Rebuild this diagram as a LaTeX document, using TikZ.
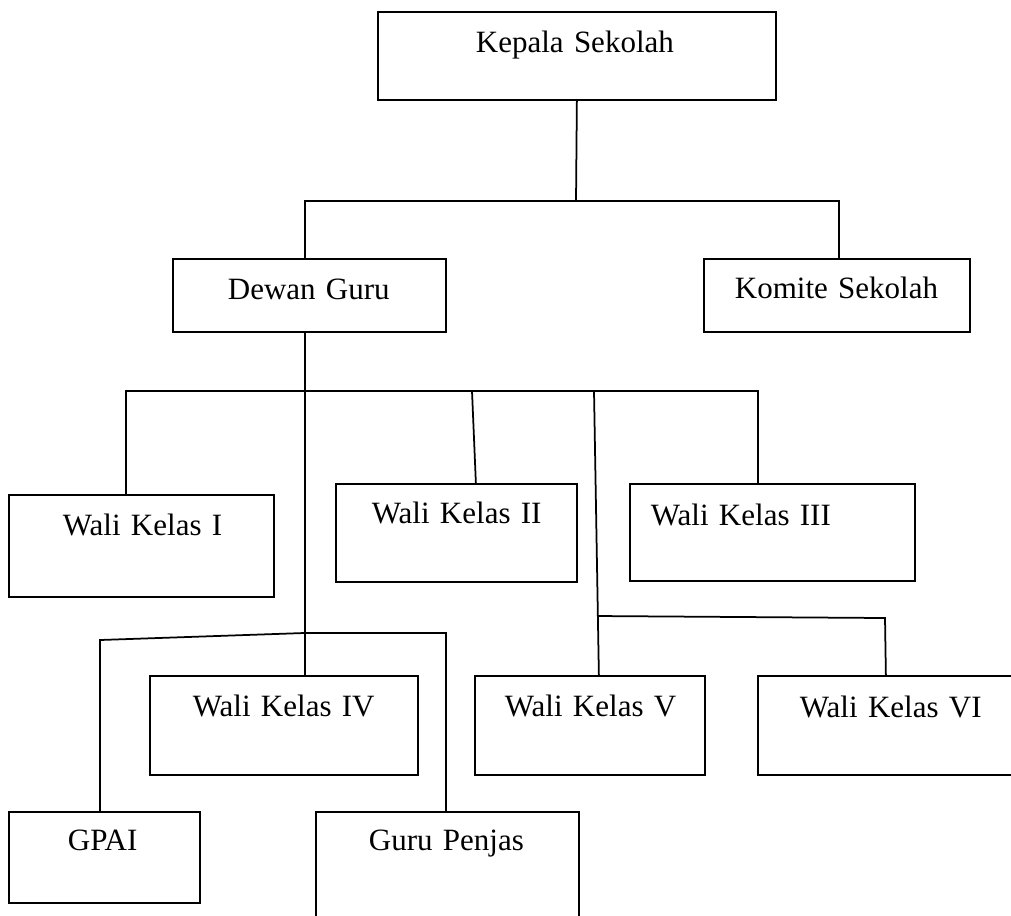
\documentclass[tikz,border=0pt]{standalone}
\usepackage{fontspec}
\setmainfont{Liberation Serif}
\newlength\px
\setlength\px{0.4pt}
\tikzset{
  jabatan/.style={draw, anchor=north west, inner ysep=0pt, align=left,
    font=\fontsize{12.4}{15}\selectfont,
    execute at begin node={\hyphenpenalty=10000\exhyphenpenalty=10000}},
}
\begin{document}
\begin{tikzpicture}[x=0.4pt, y=-0.4pt, line width=0.7pt]
      \useasboundingbox (0,0) rectangle (1011,915);
      \clip (0,0) rectangle (1011,915);
      % kotak struktur
      \node[jabatan, inner xsep=98\px, text width=202\px, text height=41\px, text depth=47\px] (kepsek) at (377,11) {Kepala~Sekolah};
      \node[jabatan, inner xsep=55\px, text width=163\px, text height=41\px, text depth=32\px] (dewan) at (172,258) {Dewan~Guru};
      \node[jabatan, inner xsep=31\px, text width=204\px, text height=40\px, text depth=33\px] (komite) at (703,258) {Komite~Sekolah};
      \node[jabatan, inner xsep=54\px, text width=157\px, text height=41\px, text depth=61\px] (wk1) at (8,494) {Wali~Kelas~I};
      \node[jabatan, inner xsep=36\px, text width=169\px, text height=40\px, text depth=58\px] (wk2) at (335,483) {Wali~Kelas~II};
      \node[jabatan, inner xsep=21\px, text width=243\px, text height=42\px, text depth=55\px] (wk3) at (629,483) {Wali~Kelas~III};
      \node[jabatan, inner xsep=43\px, text width=182\px, text height=41\px, text depth=58\px] (wk4) at (149,675) {Wali~Kelas~IV};
      \node[jabatan, inner xsep=30\px, text width=170\px, text height=41\px, text depth=58\px] (wk5) at (474,675) {Wali~Kelas~V};
      \node[jabatan, inner xsep=42\px, text width=196\px, text height=42\px, text depth=57\px] (wk6) at (757,675) {Wali~Kelas~VI};
      \node[jabatan, inner xsep=59\px, text width=73\px, text height=39\px, text depth=52\px] (gpai) at (8,811) {GPAI};
      \node[jabatan, inner xsep=53\px, text width=157\px, text height=39\px, text depth=130\px] (penjas) at (315,811) {Guru~Penjas};
      % titik cabang
      \coordinate (j1) at (576,201);
      \coordinate (j2) at (304,391);
      \coordinate (j3) at (472,391);
      \coordinate (j4) at (594,391);
      \coordinate (j5) at (597,616);
      \coordinate (j6) at (885,618);
      \coordinate (j7) at (304,633);
      \begin{scope}[-]
        \draw (kepsek.south) to (j1);
        \draw ([xshift=-4.5\px]dewan.north) |- (j1) -| ([xshift=2\px]komite.north);
        \draw ([xshift=-4.5\px]dewan.south) to ([xshift=21\px]wk4.north);
        \draw ([xshift=-15.5\px]wk1.north) |- (j2) -| ([xshift=-14.5\px]wk3.north);
        \draw (j3) to ([xshift=19.5\px]wk2.north);
        \draw (j4) to ([xshift=9\px]wk5.north);
        \draw (j5) -- (j6) -- ([xshift=-12\px]wk6.north);
        \draw ([xshift=-4.5\px]gpai.north) -- ++(0,-171) -- (j7) -| ([xshift=-1.5\px]penjas.north);
      \end{scope}
    \end{tikzpicture}
\end{document}
